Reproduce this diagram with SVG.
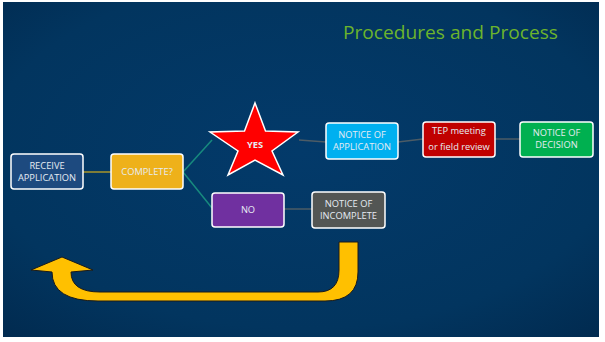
<svg xmlns="http://www.w3.org/2000/svg" width="605" height="342" viewBox="0 0 605 342">
<defs>
<radialGradient id="bg" cx="0.5" cy="0.45" r="0.75">
<stop offset="0" stop-color="#033a6a"/>
<stop offset="0.7" stop-color="#02355f"/>
<stop offset="1" stop-color="#012a4f"/>
</radialGradient>
<style>
.box{stroke:#ffffff;stroke-width:1.5}
.lbl{font-family:"Open Sans","Liberation Sans",sans-serif;font-size:9.3px;fill:#e6ecf3;text-anchor:middle}
.ln{fill:none;stroke-width:1.5}
</style>
</defs>
<rect x="0" y="0" width="605" height="342" fill="#ffffff"/>
<rect x="3" y="2" width="596" height="335" fill="url(#bg)"/>
<text x="343" y="39" font-family="'Open Sans','Liberation Sans',sans-serif" font-size="19" fill="#6cb42c" textLength="215" lengthAdjust="spacingAndGlyphs">Procedures and Process</text>

<g id="connectors">
<line class="ln" x1="83" y1="172" x2="111" y2="172" stroke="#a8962a"/>
<line class="ln" x1="183" y1="172" x2="212" y2="140" stroke="#178a7e"/>
<line class="ln" x1="183" y1="172" x2="212" y2="208" stroke="#178a7e"/>
<line class="ln" x1="299" y1="140" x2="326" y2="142" stroke="#4d5c66"/>
<line class="ln" x1="398" y1="142" x2="423" y2="139" stroke="#4d5c66"/>
<line class="ln" x1="495" y1="139" x2="520" y2="139" stroke="#4d5c66"/>
<line class="ln" x1="284" y1="209" x2="312" y2="209" stroke="#4d5c66"/>
</g>

<g id="receive">
<rect class="box" x="11" y="154" width="72" height="35" rx="3" fill="#1d4a7f"/>
<text class="lbl" x="47" y="169">RECEIVE</text>
<text class="lbl" x="47" y="181">APPLICATION</text>
</g>
<g id="complete">
<rect class="box" x="111" y="154" width="72" height="35" rx="3" fill="#eeb11a"/>
<text class="lbl" x="147" y="175">COMPLETE?</text>
</g>
<g id="yes">
<polygon points="255,103 265.5,131 298,132 272,151 283,175 255,160 228,175 238,151 210,132 244.5,131" fill="#ff0000" stroke="#ffffff" stroke-width="1.5" stroke-linejoin="miter"/>
<text class="lbl" x="255" y="148" font-weight="bold">YES</text>
</g>
<g id="no">
<rect class="box" x="212" y="193" width="72" height="34" rx="3" fill="#7030a0"/>
<text class="lbl" x="248" y="213">NO</text>
</g>
<g id="notice-application">
<rect class="box" x="326" y="123" width="72" height="36" rx="3" fill="#00b0f0"/>
<text class="lbl" x="362" y="138">NOTICE OF</text>
<text class="lbl" x="362" y="150">APPLICATION</text>
</g>
<g id="tep">
<rect class="box" x="423" y="122" width="72" height="35" rx="3" fill="#c00000"/>
<text class="lbl" x="459" y="134">TEP meeting</text>
<text class="lbl" x="459" y="150">or field review</text>
</g>
<g id="decision">
<rect class="box" x="520" y="122" width="73" height="35" rx="3" fill="#00b050"/>
<text class="lbl" x="556.5" y="136">NOTICE OF</text>
<text class="lbl" x="556.5" y="148">DECISION</text>
</g>
<g id="notice-incomplete">
<rect class="box" x="312" y="192" width="73" height="36" rx="3" fill="#535654"/>
<text class="lbl" x="348.5" y="207">NOTICE OF</text>
<text class="lbl" x="348.5" y="219">INCOMPLETE</text>
</g>
<g id="uturn">
<path d="M358,242 L358,272 Q358,301 325,301 L98,301 Q52,301 52,272 L31,270 L62,257 L93,270 L71,272 Q71,292 100,292 L318,292 Q339,292 339,270 L339,242 Z" fill="#ffc000" stroke="#1a1a1a" stroke-width="1"/>
</g>
</svg>
